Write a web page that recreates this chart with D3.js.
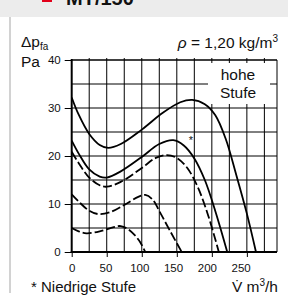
<!DOCTYPE html>
<html>
<head>
<meta charset="utf-8">
<script src="https://cdn.jsdelivr.net/npm/d3@7/dist/d3.min.js"></script>
<style>
  body { margin: 0; background: #fff; }
  text { font-family: "Liberation Sans", Arial, sans-serif; fill: #111; }
</style>
</head>
<body>
<script>
// curves: [volume flow m3/h, pressure Pa]
var hoheSolid = [[0,32.2],[10,28.6],[25,24.6],[40,22.3],[52,21.7],[70,22.5],[100,25.5],[130,29],[155,31.2],[172,31.7],[190,30.8],[205,28.5],[220,23.5],[235,16],[250,8],[263,0]];
var niedrigSolid = [[0,23.2],[10,20.5],[25,17.2],[40,15.7],[50,15.5],[70,16.8],[100,19.8],[125,22.5],[145,23.3],[160,22.2],[175,19.5],[190,15],[205,8.5],[222,0]];
var dash1 = [[0,20.9],[10,18.5],[25,15.5],[40,13.9],[50,13.6],[70,14.6],[100,17.5],[120,19.6],[136,20.2],[150,19.6],[165,17.5],[180,13.5],[195,7.5],[210,0]];
var dash2 = [[0,12],[10,10.5],[25,8.6],[38,7.9],[55,8.3],[75,9.8],[95,11.5],[105,11.9],[115,11],[127,8],[140,4.5],[157,0]];
var dash3 = [[0,5],[10,4.3],[21,3.9],[40,4.3],[60,5.2],[70,5.4],[80,4.8],[90,3.5],[98,2],[105,0]];

var xTicks = [0, 50, 100, 150, 200, 250];
var yTicks = [0, 10, 20, 30, 40];
var xGrid = d3.range(25, 276, 25);
var yGrid = d3.range(5, 36, 5);

var svg = d3.select("body").append("svg")
    .attr("width", 288).attr("height", 298);

// header band and left strip
svg.append("rect").attr("x", 0).attr("y", 0).attr("width", 288).attr("height", 17).attr("fill", "#ececec");
svg.append("rect").attr("x", 42).attr("y", -8).attr("width", 10).attr("height", 10).attr("fill", "#e2001a");
svg.append("text").attr("x", 66).attr("y", 5).style("font-size", "20px").style("font-weight", "bold").text("MT/150");
svg.append("rect").attr("x", 9).attr("y", 17).attr("width", 2).attr("height", 276).attr("fill", "#d2d2d2");

var x = d3.scaleLinear().domain([0, 293]).range([71.7, 277]);
var y = d3.scaleLinear().domain([0, 40]).range([252, 60]);

// grid
svg.selectAll(".vg").data(xGrid).enter().append("line")
    .attr("x1", function (d) { return x(d); }).attr("x2", function (d) { return x(d); })
    .attr("y1", y(0)).attr("y2", y(40) - 2)
    .attr("stroke", "#000").attr("stroke-width", 1);
svg.selectAll(".hg").data(yGrid).enter().append("line")
    .attr("x1", x(0)).attr("x2", x(293))
    .attr("y1", function (d) { return y(d); }).attr("y2", function (d) { return y(d); })
    .attr("stroke", "#000").attr("stroke-width", 1);
// frame
svg.append("line").attr("x1", x(0)).attr("x2", x(293)).attr("y1", y(40)).attr("y2", y(40)).attr("stroke", "#000").attr("stroke-width", 1.5);
svg.append("line").attr("x1", x(293)).attr("x2", x(293)).attr("y1", y(40)).attr("y2", y(0)).attr("stroke", "#000").attr("stroke-width", 1);

// legend box
svg.append("rect").attr("x", 208).attr("y", 63).attr("width", 62).attr("height", 41).attr("fill", "#fff");
svg.append("text").attr("x", 238).attr("y", 80).attr("text-anchor", "middle").style("font-size", "15.5px").text("hohe");
svg.append("text").attr("x", 238).attr("y", 98).attr("text-anchor", "middle").style("font-size", "15.5px").text("Stufe");

// axes
svg.append("g").attr("transform", "translate(0," + y(0) + ")")
    .call(d3.axisBottom(x).tickValues(xTicks).tickSize(5).tickPadding(7))
    .call(function (g) {
      g.select(".domain").remove();
      g.selectAll("line").attr("stroke", "#000").attr("stroke-width", 1);
      g.selectAll("text").style("font-size", "11.5px").attr("fill", "#111")
          .attr("dx", function (d) { return -d * 0.025; });
    });
svg.append("g").attr("transform", "translate(" + x(0) + ",0)")
    .call(d3.axisLeft(y).tickValues(yTicks).tickSize(7).tickPadding(4))
    .call(function (g) {
      g.select(".domain").remove();
      g.selectAll("line").attr("stroke", "#000").attr("stroke-width", 1);
      g.selectAll("text").style("font-size", "11.5px").attr("fill", "#111");
    });
svg.append("line").attr("x1", x(0)).attr("x2", x(0)).attr("y1", y(40) - 1).attr("y2", y(0) + 1).attr("stroke", "#000").attr("stroke-width", 2);
svg.append("line").attr("x1", x(0) - 1).attr("x2", x(293)).attr("y1", y(0)).attr("y2", y(0)).attr("stroke", "#000").attr("stroke-width", 2);

// curves
var line = d3.line()
    .x(function (d) { return x(d[0]); })
    .y(function (d) { return y(d[1]); })
    .curve(d3.curveCatmullRom.alpha(0.5));
[[hoheSolid, null], [niedrigSolid, null], [dash1, "9,3"], [dash2, "9,3"], [dash3, "9,3"]].forEach(function (c) {
  svg.append("path").datum(c[0]).attr("d", line)
      .attr("fill", "none").attr("stroke", "#000").attr("stroke-width", 1.8)
      .attr("stroke-dasharray", c[1]);
});
svg.append("text").attr("x", x(170)).attr("y", y(22.4)).attr("text-anchor", "middle").style("font-size", "11px").text("*");

// labels
var dp = svg.append("text").attr("x", 21).attr("y", 47).style("font-size", "15.5px");
dp.append("tspan").text("\u0394p");
dp.append("tspan").attr("dy", 3).style("font-size", "10px").text("fa");
svg.append("text").attr("x", 21).attr("y", 67).style("font-size", "15.5px").text("Pa");
var rho = svg.append("text").attr("x", 278).attr("y", 48).attr("text-anchor", "end").style("font-size", "15.5px");
rho.append("tspan").style("font-style", "italic").text("\u03c1");
rho.append("tspan").text(" = 1,20 kg/m");
rho.append("tspan").attr("dy", -6).style("font-size", "10px").text("3");
svg.append("text").attr("x", 31).attr("y", 292).style("font-size", "15px").text("* Niedrige Stufe");
var vt = svg.append("text").attr("x", 278).attr("y", 292).attr("text-anchor", "end").style("font-size", "15.5px");
vt.append("tspan").text("V\u0307 m");
vt.append("tspan").attr("dy", -6).style("font-size", "10px").text("3");
vt.append("tspan").attr("dy", 6).text("/h");
</script>
</body>
</html>
